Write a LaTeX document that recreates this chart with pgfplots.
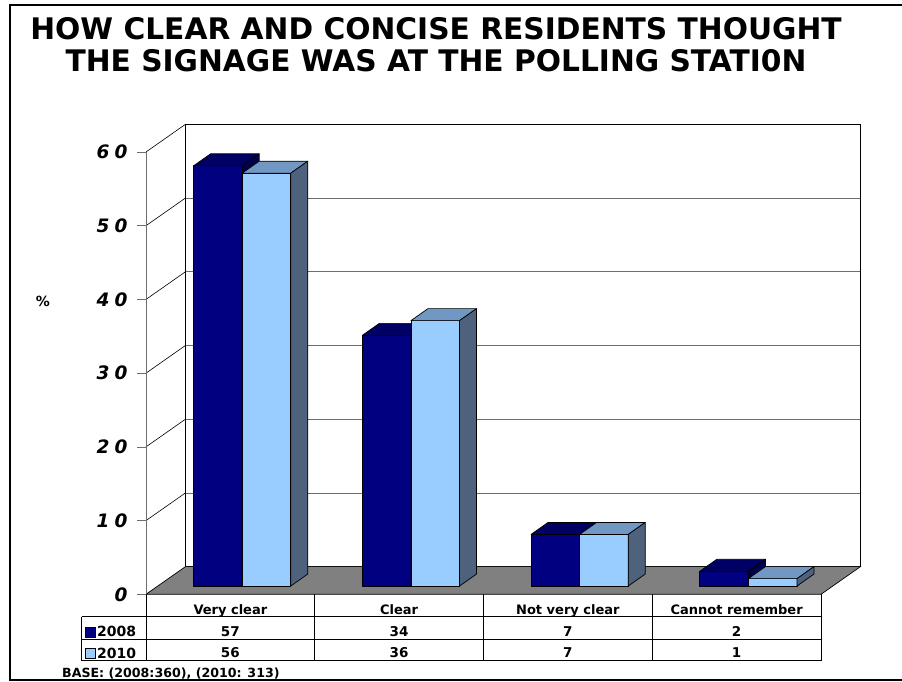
\documentclass[border=0pt]{standalone}
\usepackage{fontspec}
\setmainfont{DejaVu Sans}
\usepackage{pgfplots}
\pgfplotsset{compat=1.18}
\usepackage{pgfplotstable}

\definecolor{navyF}{RGB}{0,0,128}
\definecolor{navyT}{RGB}{0,0,100}
\definecolor{navyS}{RGB}{0,0,76}
\definecolor{skyF}{RGB}{153,204,255}
\definecolor{skyT}{RGB}{112,152,194}
\definecolor{skyS}{RGB}{78,98,126}
\definecolor{floorG}{RGB}{128,128,128}
\definecolor{gridG}{RGB}{110,110,110}

% percentages per answer, 2008 and 2010
\pgfplotstableread{
x   y08 y10
0.5 57  56
1.5 34  36
2.5 7   7
3.5 2   1
}\signage

\pgfdeclareplotmark{blank}{}

% geometry, 1pt = 1px of the reference
\def\Yu{7.372}            % pt per percent
\def\Bw{48.6}             % bar width
\def\Fx{11.8}\def\Fy{8.3} % front face pushed into depth
\def\Dx{17}\def\Dy{12}    % bar depth

\newcommand\titlefont{\fontsize{29.7}{32}\selectfont\bfseries}
\newcommand\tickfont{\fontsize{18.5}{20}\selectfont\bfseries\itshape}
\newcommand\hdrfont{\fontsize{13}{15}\selectfont\bfseries}
\newcommand\valfont{\fontsize{13.5}{15}\selectfont\bfseries}

\pgfplotsset{
  box/.style n args={4}{%
    only marks, mark=blank, scatter,
    visualization depends on={rawy \as \bv},
    scatter/@pre marker code/.code={%
      \pgfmathsetmacro\xA{#1}%
      \pgfmathsetmacro\xB{#1+\Bw}%
      \pgfmathsetmacro\xC{\xB+\Dx}%
      \pgfmathsetmacro\xD{\xA+\Dx}%
      \pgfmathsetmacro\yT{\Fy}%
      \pgfmathsetmacro\yB{\Fy-\bv*\Yu}%
      \pgfmathsetmacro\yTT{\yT+\Dy}%
      \pgfmathsetmacro\yBB{\yB+\Dy}%
      \filldraw[fill=#2, draw=black, line width=0.7pt, line join=round]
        (\xA pt,\yB pt) rectangle (\xB pt,\yT pt);
      \filldraw[fill=#3, draw=black, line width=0.7pt, line join=round]
        (\xA pt,\yT pt) -- (\xB pt,\yT pt) -- (\xC pt,\yTT pt) -- (\xD pt,\yTT pt) -- cycle;
      \filldraw[fill=#4, draw=black, line width=0.7pt, line join=round]
        (\xB pt,\yT pt) -- (\xC pt,\yTT pt) -- (\xC pt,\yBB pt) -- (\xB pt,\yB pt) -- cycle;
    },
    scatter/@post marker code/.code={},
  },
  cell/.style={only marks, mark=blank, nodes near coords, point meta=explicit,
    /pgf/number format/assume math mode=true,
    nodes near coords={\valfont\pgfmathprintnumber{\pgfplotspointmeta}},
    every node near coord/.append style={anchor=center, text=black}},
}

\begin{document}
\begin{tikzpicture}
\useasboundingbox (0,0) rectangle (902pt,-682pt);

\begin{scope}[x=1pt, y=-1pt]
  % frame
  \draw[line width=2pt] (902,5) -- (10,5) -- (10,680) -- (902,680);
  % title
  \node[anchor=base] at (436,40) {\titlefont HOW CLEAR AND CONCISE RESIDENTS THOUGHT};
  \node[anchor=base] at (436,71.5) {\titlefont THE SIGNAGE WAS AT THE POLLING STATI0N};
  \node at (43,301) {\fontsize{14}{16}\selectfont\bfseries \%};
  % back wall and gridlines
  \foreach \k in {1,...,5}
    \draw[gridG, line width=0.7pt] (185.5,{566.6-\k*73.72}) -- (860.5,{566.6-\k*73.72});
  \draw[black, line width=0.7pt] (185.5,124.3) rectangle (860.5,566.6);
  % left wall diagonals
  \foreach \k in {1,...,6}
    \draw[black, line width=0.6pt] (146,{594.3-\k*73.72}) -- (185.5,{566.6-\k*73.72});
  % floor
  \filldraw[fill=floorG, draw=black, line width=0.7pt]
    (146,594.3) -- (821,594.3) -- (860.5,566.6) -- (185.5,566.6) -- cycle;
  % data table grid
  \draw[line width=0.8pt] (81.7,616.7) -- (821,616.7) (81.7,639) -- (821,639)
    (81.7,660.5) -- (821,660.5) (81.7,616.7) -- (81.7,660.5);
  \foreach \c in {146,314.75,483.5,652.25,821}
    \draw[line width=0.8pt] (\c,594.3) -- (\c,660.5);
  % legend keys
  \filldraw[fill=navyF, draw=black, line width=0.6pt] (85.7,627.3) rectangle (95,637.3);
  \filldraw[fill=skyF, draw=black, line width=0.6pt] (85.7,648.3) rectangle (95,658.3);
  \node[anchor=base west, inner sep=0] at (97,636.7) {\fontsize{14}{16}\selectfont\bfseries 2008};
  \node[anchor=base west, inner sep=0] at (97,658.3) {\fontsize{14}{16}\selectfont\bfseries 2010};
  \node[anchor=base west, inner sep=0] at (62,677) {\fontsize{12.6}{14}\selectfont\bfseries BASE: (2008:360), (2010: 313)};
\end{scope}

\begin{axis}[
  at={(146pt,-594.3pt)}, anchor=south west,
  scale only axis, width=675pt, height=442.3pt,
  xmin=0, xmax=4, ymin=0, ymax=60,
  clip=false,
  axis lines*=left,
  x axis line style={draw=none},
  y axis line style={draw=gridG, line width=0.7pt},
  tick align=outside, major tick length=9pt,
  xtick={0.5,1.5,2.5,3.5},
  xticklabels={Very clear, Clear, Not very clear, Cannot remember},
  xtick style={draw=none},
  xticklabel style={anchor=base, font=\hdrfont, yshift=-11.1pt},
  ytick={0,10,...,60},
  yticklabels={0,1\kern5pt0,2\kern5pt0,3\kern5pt0,4\kern5pt0,5\kern5pt0,6\kern5pt0},
  ytick style={draw=gridG, line width=0.7pt},
  yticklabel style={anchor=east, font=\tickfont, xshift=-6pt},
]
\addplot[box={-\Bw+\Fx}{navyF}{navyT}{navyS}] table[x=x, y=y08]{\signage};
\addplot[box={\Fx}{skyF}{skyT}{skyS}] table[x=x, y=y10]{\signage};
\addplot[cell] table[x=x, y expr=-5.02, meta=y08]{\signage};
\addplot[cell] table[x=x, y expr=-7.94, meta=y10]{\signage};
\end{axis}
\end{tikzpicture}
\end{document}
